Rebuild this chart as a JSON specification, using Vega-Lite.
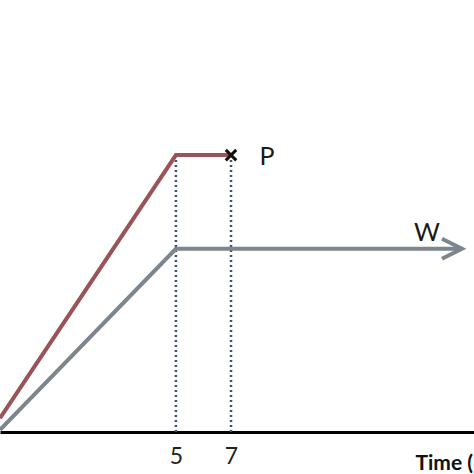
{
  "$schema": "https://vega.github.io/schema/vega-lite/v6.json",
  "width": 474,
  "height": 432,
  "padding": {"top": 0, "left": 0, "right": 0, "bottom": 42},
  "autosize": {"type": "none"},
  "config": {"view": {"stroke": null}, "font": "Lato"},
  "datasets": {
    "lines": [
      {"series": "P", "t": 0, "v": 3.2},
      {"series": "P", "t": 5, "v": 64.1},
      {"series": "P", "t": 7, "v": 64.1},
      {"series": "W", "t": 0, "v": 0.5},
      {"series": "W", "t": 5, "v": 42.4},
      {"series": "W", "t": 16.38, "v": 42.4}
    ],
    "guides": [
      {"t": 5, "v": 64.1},
      {"t": 7, "v": 64.1}
    ],
    "labels": [
      {"t": 8.37, "v": 63.7, "text": "P"},
      {"t": 14.94, "v": 46.1, "text": "W"}
    ],
    "ends": [
      {"kind": "stop", "t": 7, "v": 64.1},
      {"kind": "arrow", "t": 16.03, "v": 42.4}
    ]
  },
  "encoding": {
    "x": {
      "field": "t", "type": "quantitative",
      "scale": {"type": "pow", "exponent": 0.81, "domain": [0, 17], "nice": false},
      "axis": {
        "values": [5, 7], "ticks": false, "grid": false,
        "domainColor": "#000000", "domainWidth": 3,
        "labelFontSize": 23, "labelColor": "#222222", "labelPadding": 13,
        "title": "Time (h)", "titleFontSize": 21, "titleFontWeight": "bold",
        "titleColor": "#111111", "titleAnchor": "start", "titleAlign": "left",
        "titleX": 415, "titleY": 37, "titleBaseline": "alphabetic"
      }
    },
    "y": {
      "field": "v", "type": "quantitative",
      "scale": {"domain": [0, 100], "nice": false},
      "axis": null
    }
  },
  "layer": [
    {
      "data": {"name": "guides"},
      "mark": {"type": "rule", "color": "#3e4f78", "strokeWidth": 2.5, "strokeDash": [2, 3]},
      "encoding": {"y2": {"datum": 0}}
    },
    {
      "data": {"name": "lines"},
      "mark": {"type": "line", "strokeWidth": 4},
      "encoding": {
        "detail": {"field": "series"},
        "color": {
          "field": "series", "type": "nominal",
          "scale": {"domain": ["P", "W"], "range": ["#9a5358", "#7d858d"]},
          "legend": null
        }
      }
    },
    {
      "data": {"name": "ends"},
      "transform": [{"filter": "datum.kind == 'stop'"}],
      "mark": {"type": "point", "shape": "M-1,-1L1,1M1,-1L-1,1", "size": 110, "filled": false, "strokeWidth": 3, "color": "#111111", "opacity": 1}
    },
    {
      "data": {"name": "ends"},
      "transform": [{"filter": "datum.kind == 'arrow'"}],
      "mark": {"type": "point", "shape": "M-1,-1L1,0L-1,1", "size": 400, "filled": false, "strokeWidth": 4, "color": "#7d858d", "opacity": 1}
    },
    {
      "data": {"name": "labels"},
      "mark": {"type": "text", "fontSize": 25, "color": "#1a1a1a", "align": "center", "baseline": "middle"},
      "encoding": {"text": {"field": "text"}}
    }
  ]
}
